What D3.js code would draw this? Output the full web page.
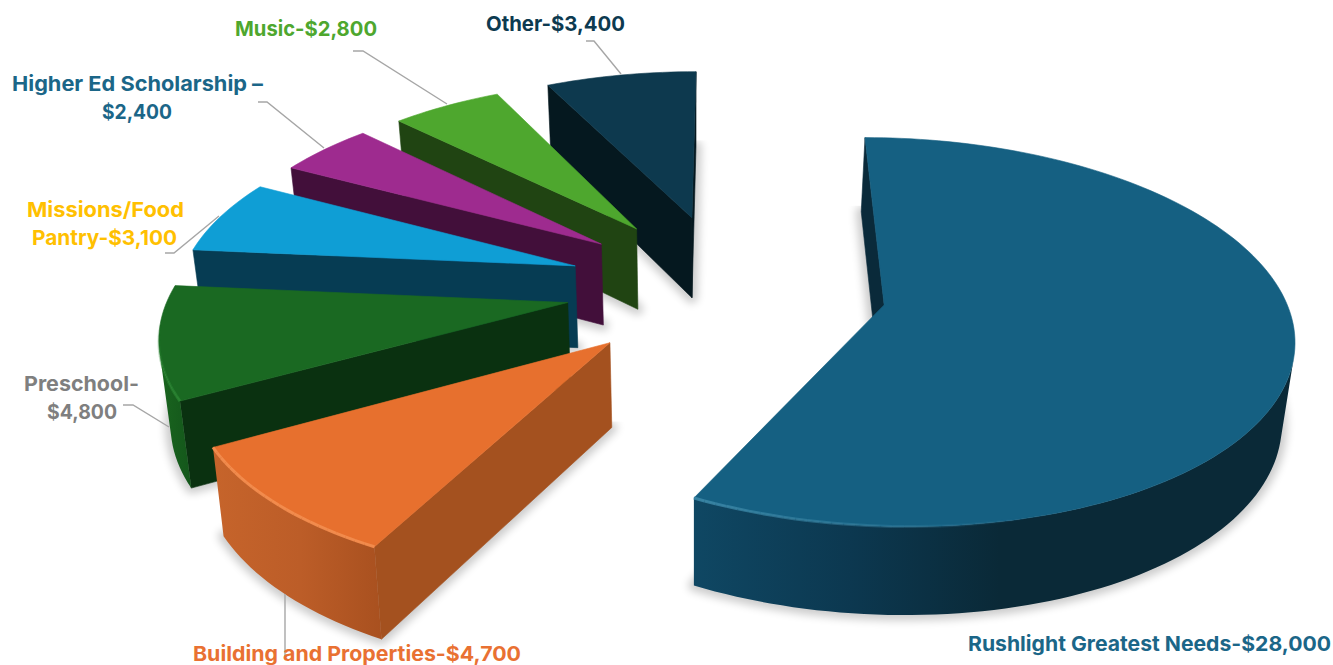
<!DOCTYPE html>
<html>
<head>
<meta charset="utf-8">
<script src="https://cdn.jsdelivr.net/npm/d3@7"></script>
<style>
html,body{margin:0;padding:0;background:#fff;overflow:hidden}
svg{display:block}
text{font-family:Inter,"Open Sans",sans-serif;font-weight:700}
</style>
</head>
<body>
<svg id="chart" width="1333" height="665"></svg>
<script>
// ---- data ----
const categories = ["Rushlight Greatest Needs","Building and Properties","Preschool","Missions/Food Pantry","Higher Ed Scholarship","Music","Other"];
const values = [28000,4700,4800,3100,2400,2800,3400];
const labelLines = [
  ["Rushlight Greatest Needs-$28,000"],
  ["Building and Properties-$4,700"],
  ["Preschool-","$4,800"],
  ["Missions/Food","Pantry-$3,100"],
  ["Higher Ed Scholarship \u2013","$2,400"],
  ["Music-$2,800"],
  ["Other-$3,400"]
];
// ---- styles ----
const topColors  = ["#156082","#E7702E","#1A6922","#0F9ED5","#9E2B8F","#4EA72E","#0D394E"];
const wallColors = ["#0A2A3A","#A4511F","#0A3110","#063C53","#420F3A","#204412","#05181F"];
const rimStops = [
  [[694,"#0F4763"],[850,"#0C3850"],[1000,"#0A2937"],[1296,"#0A2937"]],
  [[214,"#C6642B"],[300,"#BC5D28"],[385,"#A8501F"]],
  [[157,"#1A661F"],[190,"#14571B"]],
  [[0,"#063C53"]],[[0,"#420F3A"]],[[0,"#204412"]],[[0,"#05181F"]]
];
const bevelColors= ["#3A86A6","#F28C4E","#2C8A34",null,null,null,null];
const labelColors= ["#1B6688","#E97132","#7F7F7F","#FFC000","#1B6688","#4EA72E","#0D3A50"];
// ---- layout ----
const labelX = [[1149.5],[357],[81.5,82],[105.5,104.5],[137.5,137],[306],[555.5]];
const labelY = [651,661,391,217,91,36,31];
const labelW = [[363],[328],[115,70],[157,145],[251,70],[142],[139]];
const labelSize = 20.5;
const leaders = [
  null,
  [[285,594],[285,656]],
  [[123,405],[133,405],[169,427]],
  [[165,253],[174,253],[219,216]],
  [[258,102],[267,102],[324,148]],
  [[353,51],[363,51],[447,104]],
  [[586,41],[594,41],[621,74]]
];
const boundaryNudge = [0,2.6,1.7,0.8,0.9,-0.1,-1.4,0]; // degrees, view-skew of the slice edges
const drawOrder = [6,5,4,3,2,1,0];
const explode = 0.402, pieCenter = [-0.004,0.096];
const radii = [0.998,0.995,0.995,0.995,0.99,0.985,0.985];
const depthScale = [0.965,1,1,1,1,1,1];
const persp = 0.14, vanishY = -1060, camC = 1365, camX = 728, camS = 404;

const svg = d3.select("#chart");
const defs = svg.append("defs");
defs.append("filter").attr("id","soft").attr("x","-20%").attr("y","-20%").attr("width","140%").attr("height","140%")
  .append("feGaussianBlur").attr("stdDeviation",4.5);

// projection of the tilted pie plane, and of the extruded bottom face
const bottomX = d3.scaleLinear().domain([694,1694]).range([694,1672]);
const bottomY = d3.scaleLinear().domain([218,1218]).range([298,1336]);
const project = (X,Y)=>{const w=1+persp*Y;return [camX+camS*X/w,vanishY+camC/w];};
const lowerOf = i=>p=>[bottomX(p[0]),p[1]+(bottomY(p[1])-p[1])*depthScale[i]];
const line = d3.line();

const toRad = d=>d*Math.PI/180;
const arcs = d3.pie().sort(null).value(d=>d)(values);
const slices = arcs.map((a,i)=>{
  const a0=a.startAngle+toRad(boundaryNudge[i]);
  const a1=a.endAngle+toRad(boundaryNudge[i+1]);
  const mid=(a0+a1)/2;
  const ax=pieCenter[0]+explode*Math.sin(mid), ay=pieCenter[1]+explode*Math.cos(mid);
  const apexTop=project(ax,ay);
  const n=Math.max(8,Math.ceil((a1-a0)/toRad(1.5)));
  const angles=d3.range(n+1).map(k=>a0+(a1-a0)*k/n);
  const arcTop=angles.map(t=>project(ax+radii[i]*Math.sin(t),ay+radii[i]*Math.cos(t)));
  return {i,a0,a1,apexTop,angles,arcTop,top:[apexTop,...arcTop]};
});

// rim gradients
rimStops.forEach((stops,i)=>{
  const lg=defs.append("linearGradient").attr("id","rim"+i).attr("gradientUnits","userSpaceOnUse")
    .attr("x1",stops[0][0]).attr("y1",0).attr("x2",stops[stops.length-1][0]+1).attr("y2",0);
  const ext=stops[stops.length-1][0]+1-stops[0][0];
  stops.forEach(st=>lg.append("stop").attr("offset",(st[0]-stops[0][0])/ext).attr("stop-color",st[1]));
});

// soft shadows under everything
const shadowLayer = svg.append("g");
slices.forEach(s=>{
  const face=s.top.map(lowerOf(s.i));
  const minY=d3.min(face,p=>p[1])-6;
  const id="clip"+s.i;
  defs.append("clipPath").attr("id",id).append("rect").attr("x",0).attr("y",minY).attr("width",1333).attr("height",700);
  shadowLayer.append("g").attr("clip-path",`url(#${id})`)
    .append("path").attr("d",line(face)+"Z")
    .attr("fill","#000").attr("stroke","#000").attr("stroke-width",11).attr("stroke-linejoin","round")
    .attr("opacity",0.2).attr("filter","url(#soft)");
});

// slices, back to front
drawOrder.forEach(idx=>{
  const s=slices[idx];
  const lower=lowerOf(idx);
  const g=svg.append("g").attr("class","slice");
  const orient=Math.sign(d3.polygonArea(s.top));
  const faces=(p,q)=>Math.sign(d3.polygonArea([p,q,lower(q),lower(p)]))!==orient;
  const wall=(p,q,fill)=>{
    if(!faces(p,q)) return;
    g.append("path").attr("d",line([p,q,lower(q),lower(p)])+"Z").attr("fill",fill).attr("stroke",fill).attr("stroke-width",0.6);
  };
  // straight cut walls
  wall(s.apexTop,s.arcTop[0],wallColors[idx]);
  wall(s.arcTop[s.arcTop.length-1],s.apexTop,wallColors[idx]);
  // outer rim: one polygon over the camera-facing run of the arc
  const run=[];
  for(let k=0;k<s.arcTop.length-1;k++){
    if(faces(s.arcTop[k],s.arcTop[k+1])){
      if(!run.length) run.push(s.arcTop[k]);
      run.push(s.arcTop[k+1]);
    }
  }
  if(run.length>1){
    g.append("path").attr("d",line([...run,...run.slice().reverse().map(lower)])+"Z")
      .attr("fill",`url(#rim${idx})`);
  }
  // top face
  g.append("path").attr("d",line(s.top)+"Z").attr("fill",topColors[idx]).attr("stroke",topColors[idx]).attr("stroke-width",0.6);
  // bevel highlight along the lit part of the rim
  if(bevelColors[idx]){
    const fade=idx===0?d3.scaleLinear().domain([s.a1,s.a1-0.75]).range([0.9,0]).clamp(true)
              :idx===1?()=>0.95
              :d3.scaleLinear().domain([s.a0,s.a0+0.4]).range([0.7,0]).clamp(true);
    for(let k=0;k<s.arcTop.length-1;k++){
      const o=fade((s.angles[k]+s.angles[k+1])/2);
      if(o<=0) continue;
      g.append("path").attr("d",line([s.arcTop[k],s.arcTop[k+1]]))
        .attr("fill","none").attr("stroke",bevelColors[idx]).attr("stroke-width",3).attr("stroke-opacity",o);
    }
  }
});

// leader lines
leaders.forEach(pts=>{
  if(!pts) return;
  svg.append("path").attr("d",line(pts)).attr("fill","none").attr("stroke","#A6A6A6").attr("stroke-width",1.4);
});

// labels
labelLines.forEach((lines,i)=>{
  lines.forEach((t,j)=>{
    svg.append("text").attr("x",labelX[i][j]).attr("y",labelY[i]+j*28)
      .attr("text-anchor","middle").attr("font-size",labelSize).attr("fill",labelColors[i])
      .attr("textLength",labelW[i][j]).attr("lengthAdjust","spacingAndGlyphs").text(t);
  });
});
</script>
</body>
</html>
